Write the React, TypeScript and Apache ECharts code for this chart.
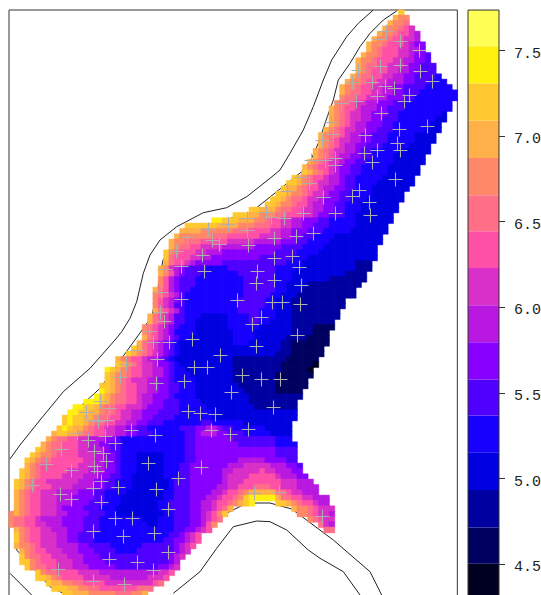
import React, { useEffect, useRef } from "react";
import * as echarts from "echarts";

const bandColors = ["#000020","#000060","#0000a0","#0000e0","#1800ff","#5000ff","#8800ff","#b818e0","#d830c8","#ff50a8","#ff7088","#ff8868","#ffb048","#ffc830","#fff010","#ffff55"];
const bandEdges = [4.283,4.5,4.712,4.93,5.151,5.365,5.576,5.794,6.009,6.227,6.442,6.652,6.87,7.087,7.305,7.523,7.734];
const tickValues = [4.5,5,5.5,6,6.5,7,7.5];

// one entry per grid row: first column, then band letter + column where that band ends ("_" = no data)
const rowRuns = [
"73:n74","72:m73 l75","71:m72 l74 k75","70:m71 l73 k74 j75 i76","69:m70 l72 k73 j75 i76 h77","68:m69 l71 k72 j74 i76 h77",
"67:m68 l70 k71 j74 i75 h76 g78","67:m68 l69 k70 j73 i75 h77 g78","66:m67 l69 k70 j73 i75 h76 g78 f79","65:m66 l68 k69 j72 i74 h76 g78 f79",
"65:m66 l67 k69 j71 i74 h75 g77 f80","65:m66 l67 k68 j71 i73 h75 g77 f80","64:m65 l66 k68 j70 i72 h74 g76 f80 e81","63:m64 l66 k67 j69 i71 h74 g76 f79 e82",
"62:m63 l65 k66 j68 i70 h72 g74 f78 e83","62:m63 l64 k66 j68 i70 h72 g74 f77 e84","62:l63 k65 j67 i69 h71 g74 f76 e84","61:l62 k64 j65 i67 h69 g72 f74 e83",
"60:m61 l62 k63 j65 i66 h69 g71 f74 e83","60:m61 l62 k63 j64 i66 h68 g71 f73 e81 d82","60:m61 l62 k63 j64 i66 h68 g70 f73 e80 d82","60:m61 l62 k63 j64 i65 h67 g70 f72 e79 d81",
"59:m60 l61 k62 j63 i65 h67 g69 f72 e78 d81","58:m59 l60 k62 j63 i64 h66 g68 f71 e76 d80","58:m59 l60 k61 j62 i64 h66 g68 f71 e76 d80","58:m59 l60 k61 j62 i63 h65 g67 f70 e75 d79",
"57:m58 l59 k60 j61 i63 h65 g66 f68 e73 d79","57:m58 l59 k60 j61 i62 h64 g66 f68 e72 d78","56:m57 l58 k59 j60 i62 h63 g65 f67 e72 d78","55:m56 l57 k58 j60 i61 h62 g64 f66 e71 d77",
"55:n56 m57 l58 k59 j60 i61 h62 g64 f66 e71 d77","53:n54 m55 l56 k57 j59 i60 h62 g63 f65 e70 d76","52:n54 m55 l56 k57 j58 i60 h62 g63 f65 e69 d76","51:n52 m54 l55 k56 j58 i59 h61 g63 f65 e68 d75",
"50:n52 m53 l55 k56 j57 i59 h60 g62 f64 e68 d74","49:n51 m52 l53 k55 j56 i58 h59 g62 f64 e67 d74","48:n50 m51 l53 k54 j56 i57 h59 g61 f63 e66 d73","45:n47 m50 l51 k53 j55 i57 h59 g61 f63 e66 d73",
"42:n45 m47 l50 k52 j55 i57 h58 g60 f63 e65 d72","38:o40 n43 m46 l48 k49 j51 i53 h55 g58 f60 e65 d72","33:n39 m43 l46 k49 j51 i53 h55 g57 f60 e65 d71","32:m36 l42 k45 j49 i51 h53 g56 f59 e64 d71",
"31:m32 l38 k41 j47 i51 h53 g55 f57 e61 d70","30:m31 l33 k36 j41 i46 h51 g54 f56 e60 d70","30:m31 l32 k34 j36 i40 h46 g51 f55 e59 d69","29:n30 l31 k32 j35 i37 h40 g50 f54 e58 d69",
"29:n30 k31 j34 i36 h38 g47 f53 e56 d69","29:m30 k31 j33 i34 h35 g40 f52 e55 d65 c68","28:m29 l30 i31 h32 g33 f37 e41 f50 e54 d65 c68","28:m29 l30 j31 h32 g33 f36 e43 f50 e53 d63 c67",
"28:l29 j30 h31 g32 f35 e44 f50 e53 d60 c67","28:l29 j30 h31 g32 f35 e44 f50 e52 d56 c66","27:m28 k29 j30 h31 g32 f34 e44 f50 e52 d55 c65","27:l28 k29 j30 i31 h32 f33 e44 f49 e51 d54 c65",
"27:l28 j29 i30 h31 g32 f33 e43 f48 e50 d53 c63","27:l28 j29 i30 h31 f33 e43 f48 e50 d53 c63","27:m28 k29 j30 i31 h32 f33 e43 f47 e50 d53 c62","26:m27 k28 j29 i30 h31 f33 e36 d41 e45 f47 e50 d53 c62",
"26:m27 k28 j29 i30 h31 f33 e35 d41 e45 f47 e49 d53 c61","25:l26 k27 j28 i29 h30 g31 f32 e35 d41 e47 d53 c57 b61","25:l26 k27 j28 i29 h30 g31 e35 d42 e46 d53 c57 b60","25:m26 k27 j28 i29 h30 g31 f32 e34 d42 e46 d52 c56 b60",
"24:m25 k26 j27 i28 h29 g30 f31 e32 d42 e45 d51 c53 b60","23:n24 m25 k26 j27 i28 h29 g30 f31 e32 d51 c53 b59","22:n23 m24 l25 k26 j27 i28 h29 g30 f31 e32 d50 c53 b59","20:m21 l22 k23 j25 i26 h28 g29 f30 e31 d42 c52 b58",
"20:n21 m22 l23 k24 j25 i27 h28 g30 f31 e32 d42 c51 b57 a58","18:o19 n20 m21 l22 k23 j25 i27 h29 g30 f31 e33 d42 c51 b56 a57","18:n19 m20 l22 k23 j25 i27 h29 g30 f31 e34 d42 c50 b57","18:n19 m20 l21 k22 j23 i26 h28 g30 f31 e35 d42 c50 b56",
"17:n19 m20 l21 k22 j24 i26 h28 g30 f32 e35 d43 c50 b56","17:o18 n19 m20 l21 k22 j24 i26 h28 g30 f32 e35 d44 c50 b55","16:o17 n18 m19 l20 k22 j24 i25 h27 g30 f31 e35 d45 c55","14:o17 n18 m19 l20 k22 j24 i25 h27 g29 f32 e36 d45 c54",
"12:o14 n16 m17 l18 k20 j22 i25 h26 g29 f32 e37 d46 c54","11:o13 n15 m17 l18 k20 j21 i23 h25 g28 f32 e38 d54","10:n11 o12 n14 m16 l17 k19 j21 i23 h25 g27 f31 e38 d54","10:n11 o12 n14 m15 l16 k18 j20 i22 h24 g26 f29 e36 f38 e44 d53",
"9:n10 o11 n12 m14 l15 k16 j18 i20 h22 g24 f26 e32 f35 g37 h39 g40 f42 e48 d53","8:m9 n11 m13 l14 k16 j18 i20 h22 g24 f27 e33 f35 g36 h39 g41 f44 e49 d53","7:m8 l9 k11 j13 i15 h18 g20 f21 e33 f35 g42 f50 e53","6:m7 l8 k10 j13 i15 h17 g19 f21 e33 f35 g43 f50 e54",
"5:n6 m7 l8 k10 j13 i15 h18 g19 f21 e33 f35 g50 f54","4:n5 m6 l8 k9 j13 i16 h18 g20 f21 e24 d29 e33 f35 g50 f54","3:n4 m5 l6 k8 j14 i16 h18 g20 f21 e24 d29 e33 f35 g43 h48 g52 f54","3:m4 l5 k6 j13 i16 h18 g20 f21 e24 d29 e32 f34 g41 h44 i49 h52 g54 f55",
"2:n3 m4 l5 k6 j11 i15 h18 g20 f21 e24 d29 e32 f34 g40 h42 i47 j48 i50 h53 g55","2:n3 m4 l5 k6 j10 i14 h17 g19 f21 e23 d29 e32 f34 g40 h41 i45 j50 i51 h54 g56","1:n2 m3 l4 k5 j7 i13 h16 g18 f20 e23 d30 e31 f34 g40 h41 i44 j51 i54 h57","1:n2 m3 l4 k5 j8 i12 h16 g18 f20 e23 d30 e31 f34 g39 h41 i43 j46 k49 j51 i54 h58",
"1:m2 l3 k4 j6 i9 h13 g16 f18 e22 d29 e31 f34 g38 h40 i41 j43 k44 l45 m50 k52 j53 i55 h58","1:m2 l3 k4 j6 i9 h12 g16 f18 e21 d29 e31 f34 g37 h39 i40 j42 k43 l44 n45 o50 m51 k53 j55 i57 h60","1:m2 l3 k4 j6 i9 h12 g15 f18 e21 d28 e30 f34 g36 h38 i39 j41 k42 l43 m44 n45 o46 _50 n52 m53 l54 k55 j57 i58 h60","1:m2 l3 k4 j6 i9 h10 g14 f17 e20 d28 e30 f34 g36 h38 i39 j40 k41 m42 _53 m54 l56 k57 j58 i61",
"0:l1 m2 l3 k4 j6 i9 h11 g15 f18 e20 d29 e31 f34 g36 h37 i38 j39 l40 n41 _54 l56 k57 j58 i60 h61","0:l1 k3 j5 i6 h10 g14 f17 e25 d28 e31 f34 g36 h37 i38 j39 k40 _56 l57 k58 j59 i61","0:l1 k3 j5 i7 h10 g14 f17 e26 d28 e31 f34 g36 h37 j38 l39 _58 k59 i60 h61","1:m2 l3 k4 j6 i8 h11 g14 f17 e31 f33 g35 h36 i37 j38 _59 k61",
"1:n2 l3 k4 j6 i9 h11 g13 f16 e30 f32 g33 h34 i35 j36","1:n2 l3 k4 j6 i9 h11 g13 f16 e29 f31 g33 h34 i35 j36","1:m2 l4 k5 j6 i9 h13 g15 f19 e25 f31 g32 h33 i34 j35","2:m3 l4 k5 j7 i10 h13 g16 f20 e24 f31 g32 h33 i34",
"2:n3 l4 k6 j8 i11 h14 g17 f30 g31 h32 i33","2:n4 l5 k6 j9 i12 h14 g18 f30 g31 h32","3:n4 l5 k7 j9 i12 h15 g20 f28 g30 h31 i32","5:n6 l7 k9 j13 i17 h28 i30 j31",
"5:n7 m8 l9 k10 j14 i19 h26 i29 j30","7:n8 m10 l12 k14 j18 i27 j28 k29","8:n11 m13 l15 k17 j24 k27","10:n12 m15 l20 k23 l25 m26",
];

const sampleSites = [
[199.5,219.5],[219.5,214.5],[238.5,208.5],[238.5,220.5],[178.5,227.5],[203.5,230.5],[210.5,234.5],[239.5,235.5],[167.5,241.5],[193.5,245.5],[172.5,256.5],[195.5,261.5],[156.5,259.5],[248.5,261.5],[247.5,273.5],[152.5,282.5],[257.5,202.5],
[377.5,21.5],[370.5,29.5],[391.5,31.5],[410.5,40.5],[371.5,56.5],[391.5,55.5],[349.5,60.5],[411.5,61.5],[423.5,71.5],[363.5,72.5],[343.5,72.5],[376.5,76.5],[385.5,78.5],[368.5,86.5],[400.5,85.5],[395.5,91.5],[347.5,91.5],[332.5,93.5],[372.5,103.5],[390.5,119.5],[418.5,116.5],[322.5,112.5],[324.5,124.5],[313.5,130.5],[356.5,125.5],[388.5,133.5],[391.5,140.5],[368.5,140.5],[355.5,143.5],[363.5,152.5],[326.5,148.5],[326.5,155.5],[316.5,150.5],[302.5,150.5],[292.5,167.5],[300.5,173.5],[386.5,169.5],[350.5,180.5],[343.5,186.5],[278.5,181.5],[314.5,187.5],[360.5,192.5],[361.5,205.5],[326.5,203.5],[294.5,203.5],[275.5,208.5],[262.5,207.5],[304.5,223.5],[287.5,226.5],[265.5,228.5],[283.5,246.5],[265.5,248.5],[290.5,257.5],[265.5,270.5],[292.5,275.5],
[263.5,292.5],[273.5,292.5],[291.5,294.5],[288.5,325.5],[271.5,369.5],[264.5,397.5],[270.5,482.5],[313.5,506.5],
[172.5,289.5],[228.5,290.5],[252.5,307.5],[243.5,314.5],[151.5,302.5],[155.5,311.5],[140.5,321.5],[144.5,332.5],[160.5,332.5],[183.5,329.5],[247.5,336.5],[128.5,340.5],[211.5,345.5],[148.5,349.5],[117.5,354.5],[185.5,357.5],[198.5,357.5],[233.5,365.5],[252.5,369.5],[111.5,367.5],[175.5,371.5],[147.5,373.5],[222.5,382.5],[91.5,391.5],[100.5,398.5],[77.5,402.5],[84.5,410.5],[89.5,411.5],[98.5,410.5],[179.5,401.5],[191.5,403.5],[206.5,404.5],[202.5,420.5],[221.5,424.5],[239.5,419.5],[122.5,420.5],[146.5,425.5],[68.5,423.5],[79.5,430.5],[96.5,426.5],[106.5,433.5],[52.5,439.5],[85.5,441.5],[94.5,443.5],[97.5,451.5],[37.5,454.5],[85.5,456.5],[139.5,453.5],[192.5,457.5],[62.5,460.5],[88.5,461.5],[169.5,468.5],[92.5,471.5],[84.5,478.5],[109.5,477.5],[23.5,475.5],[51.5,484.5],[62.5,489.5],[147.5,479.5],[92.5,492.5],[245.5,483.5],[159.5,499.5],[106.5,508.5],[123.5,508.5],[84.5,521.5],[114.5,526.5],[145.5,523.5],[159.5,542.5],[100.5,549.5],[128.5,552.5],[49.5,559.5],[144.5,560.5],[84.5,571.5],[115.5,574.5],
];

const outerBank = [[1,449],[11,435],[31,410],[54.3,381.7],[81,358.3],[106,330],[112.7,321.7],[121,308.3],[127.7,291.7],[134.3,263.3],[141,245],[151,230],[167.7,216.7],[194.3,202.7],[217.7,197.7],[237.7,186.7],[261,168.3],[271,160],[281,143.3],[294.3,120],[304.3,96.7],[314.3,70],[322.7,50],[337.7,26.7],[349.3,13.3],[364.3,0]];
const innerBank = [[387.7,1],[374.3,10],[361,23.3],[351,36.7],[341,53.3],[329.3,70],[324.3,90],[318.3,106.7],[309.3,133.3],[302.7,148.3],[292.7,161.7],[241,203],[204,213],[174,220],[154,250],[148,283],[142.7,306.7],[91,378.3],[71,396.7],[34.3,440],[4.3,503.3],[7.7,540],[41,576.7],[54.3,583.3],[121,584],[145,576],[165,556],[190,520],[214,505],[238,493],[261,493],[282.7,499],[324.3,530],[361,561.7],[372.7,585]];
const lowerLeftBank = [[1,563.3],[11,573.3],[22.7,585]];
const lowerArchBank = [[164.3,583.3],[191,561.7],[207.7,538.3],[224.3,516.7],[247.7,511],[261,511.7],[277.7,520],[299.3,540],[311,548.3],[334.3,561.7],[351,585]];

const COLS = 84;
const ROWS = 110;

function cells() {
  const out: any[] = [];
  rowRuns.forEach((line, r) => {
    const [first, rest] = line.split(":");
    let c = Number(first);
    rest.split(" ").forEach((tok) => {
      const end = Number(tok.slice(1));
      const letter = tok[0];
      if (letter !== "_") {
        const b = letter.charCodeAt(0) - 97;
        const color = bandColors[b];
        for (let k = c; k < end; k++) {
          out.push({ value: [k, r, (bandEdges[b] + bandEdges[b + 1]) / 2], itemStyle: { borderColor: color, borderWidth: 0.4 } });
        }
      }
      c = end;
    });
  });
  return out;
}

const bankLine = (data: number[][]) => ({
  type: "line", xAxisIndex: 1, yAxisIndex: 1, data, showSymbol: false, symbol: "none", z: 1, silent: true,
  lineStyle: { color: "#222", width: 1 },
});

export default function App() {
  const ref = useRef<HTMLDivElement>(null);
  useEffect(() => {
    const chart = echarts.init(ref.current!, undefined, { renderer: "svg" });
    const plot = { left: 9, top: 10, width: 448.33, height: 586.67, outerBoundsMode: "none" };
    chart.setOption({
      animation: false,
      backgroundColor: "#fff",
      grid: [
        { ...plot, show: true, borderColor: "#333", borderWidth: 1, backgroundColor: "transparent" },
        { ...plot },
        { left: 468, top: -35.5, width: 31, height: 684.8, outerBoundsMode: "none" },
      ],
      visualMap: {
        type: "piecewise", show: false, seriesIndex: 0, dimension: 2,
        pieces: bandColors.map((color, i) => ({ min: bandEdges[i], max: bandEdges[i + 1], color })),
      },
      xAxis: [
        { type: "category", gridIndex: 0, data: Array.from({ length: COLS }, (_, i) => i), show: false },
        { type: "value", gridIndex: 1, min: 0, max: 448.33, show: false },
        { type: "value", gridIndex: 2, min: 0, max: 1, show: false },
      ],
      yAxis: [
        { type: "category", gridIndex: 0, inverse: true, data: Array.from({ length: ROWS }, (_, i) => i), show: false },
        { type: "value", gridIndex: 1, inverse: true, min: 0, max: 586.67, show: false },
        {
          type: "value", gridIndex: 2, position: "right", min: 4, max: 8, interval: 0.5, splitLine: { show: false },
          axisLine: { show: false },
          axisTick: { show: false },
          axisLabel: { show: true, margin: 15, color: "#222", fontFamily: "Liberation Mono", fontSize: 15, verticalAlign: "top", lineHeight: 8, formatter: (v: number) => (v === 4 || v === 8 ? "" : v.toFixed(1)) },
        },
      ],
      series: [
        { type: "heatmap", xAxisIndex: 0, yAxisIndex: 0, data: cells(), z: 2, silent: true, progressive: 0 },
        bankLine(outerBank),
        bankLine(innerBank),
        bankLine(lowerLeftBank),
        bankLine(lowerArchBank),
        {
          type: "scatter", xAxisIndex: 1, yAxisIndex: 1, data: sampleSites, z: 3, silent: true,
          symbol: "path://M6 0h1v6h6v1h-6v6h-1v-6h-6v-1h6z", symbolSize: 14,
          itemStyle: { color: "#aeaeae", opacity: 1 },
        },
        {
          type: "custom", xAxisIndex: 2, yAxisIndex: 2, z: 2, silent: true, clip: false,
          data: bandColors.map((_, i) => [bandEdges[i], bandEdges[i + 1], i]),
          renderItem: (_: any, api: any) => {
            const a = api.coord([0, api.value(0)]);
            const b = api.coord([1, api.value(1)]);
            return { type: "rect", shape: { x: a[0], y: b[1], width: b[0] - a[0], height: a[1] - b[1] }, style: { fill: bandColors[api.value(2)] } };
          },
        },
        {
          type: "custom", xAxisIndex: 2, yAxisIndex: 2, z: 4, silent: true, clip: false,
          data: [[bandEdges[0], bandEdges[bandEdges.length - 1]]],
          renderItem: (_: any, api: any) => {
            const a = api.coord([0, api.value(0)]);
            const b = api.coord([1, api.value(1)]);
            return { type: "rect", shape: { x: a[0], y: b[1], width: b[0] - a[0], height: a[1] - b[1] }, style: { fill: "none", stroke: "#333", lineWidth: 1 } };
          },
        },
        {
          type: "custom", xAxisIndex: 2, yAxisIndex: 2, z: 4, silent: true, clip: false,
          data: tickValues.map((v) => [v]),
          renderItem: (_: any, api: any) => {
            const p = api.coord([1, api.value(0)]);
            const y = Math.round(p[1]) + 0.5;
            return { type: "line", shape: { x1: p[0], y1: y, x2: p[0] + 6, y2: y }, style: { stroke: "#333", lineWidth: 1 } };
          },
        },
      ],
    });
    return () => chart.dispose();
  }, []);
  return <div ref={ref} style={{ position: "absolute", left: 0, top: 0, width: 541, height: 595 }} />;
}
